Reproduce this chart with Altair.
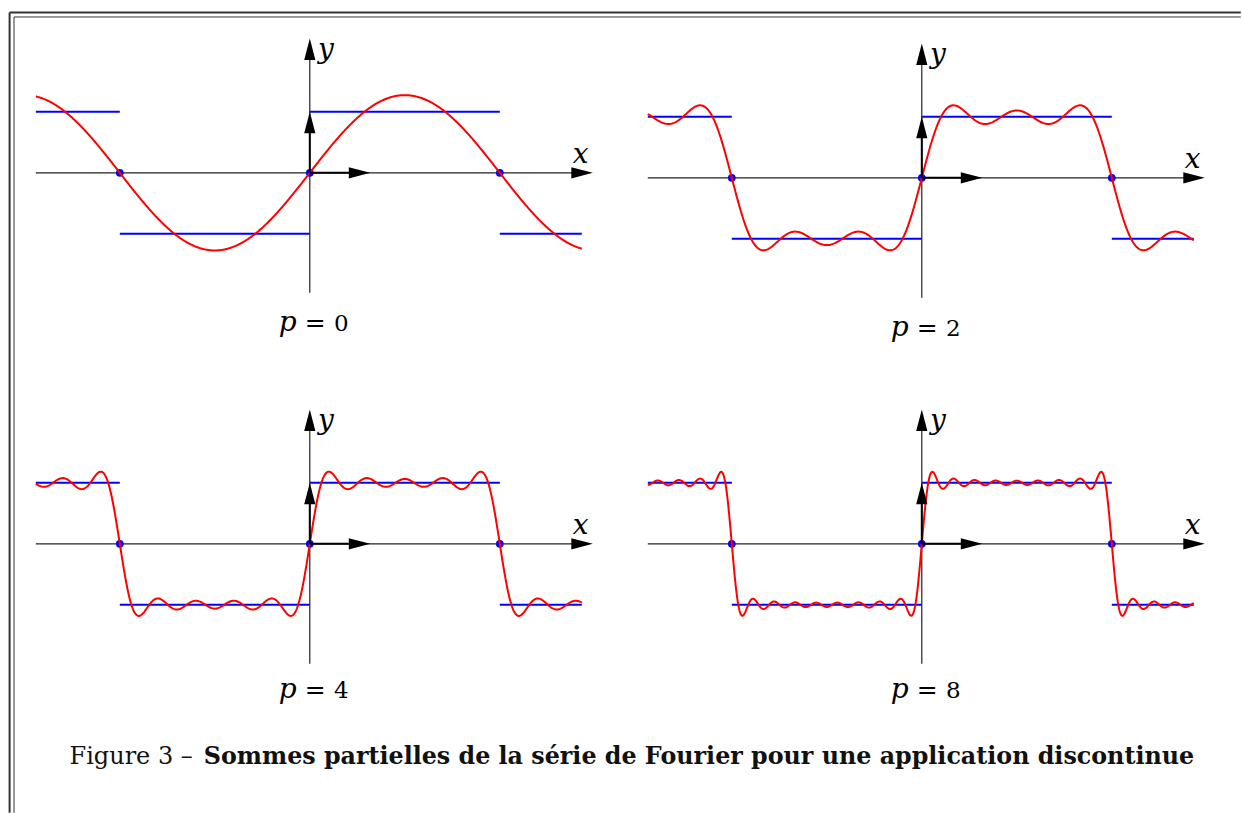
import numpy as np
import pandas as pd
import altair as alt

# Orders p of the partial sums, one panel each (top-left, top-right, bottom-left, bottom-right)
ORDERS = [0, 2, 4, 8]

# Square wave drawn in blue: interval ends (in multiples of pi) and value on each interval
STEP_START = [-1.442, -1.0, 0.0, 1.0]
STEP_END = [-1.0, 0.0, 1.0, 1.4315]
STEP_VALUE = [1, -1, 1, -1]

# Discontinuities of the square wave (multiples of pi), where the partial sums cross zero
JUMPS = [-1.0, 0.0, 1.0]

# Amplitude factor of the Fourier series of the +/-1 square wave
AMPLITUDE = 4 / np.pi

# Sampling of the red curves
N_SAMPLES = 900

# Panel geometry (pixels) and scale domains
W, H = 570, 315
PX_PER_X = 190 / np.pi
X_DOMAIN = [-279 / PX_PER_X, 291 / PX_PER_X]
Y_DOMAINS = {0: [-173 / 61, 142 / 61], 2: [-168 / 61, 147 / 61],
             4: [-167 / 61, 148 / 61], 8: [-167 / 61, 148 / 61]}
LABEL_Y = {0: -2.59, 2: -2.59, 4: -2.53, 8: -2.53}

SERIF = "DejaVu Serif"
AXIS_COLOR = "#222222"
ARROW_RIGHT = "M-2,-0.52L0,0L-2,0.52Z"
ARROW_UP = "M-0.52,2L0,0L0.52,2Z"


def partial_sum(p, x):
    s = np.zeros_like(x)
    for k in range(p + 1):
        n = 2 * k + 1
        s += np.sin(n * x) / n
    return AMPLITUDE * s


def panel(p, extra=None):
    xsc = alt.Scale(domain=X_DOMAIN, nice=False, zero=False)
    ysc = alt.Scale(domain=Y_DOMAINS[p], nice=False, zero=False)

    def X(f="x"):
        return alt.X(f"{f}:Q", scale=xsc, axis=None)

    def Y(f="y"):
        return alt.Y(f"{f}:Q", scale=ysc, axis=None)

    xs = np.linspace(STEP_START[0] * np.pi, STEP_END[-1] * np.pi, N_SAMPLES)
    curve = pd.DataFrame({"x": xs, "y": partial_sum(p, xs)})

    steps = pd.DataFrame({
        "x": np.array(STEP_START) * np.pi,
        "x2": np.array(STEP_END) * np.pi,
        "y": STEP_VALUE,
    })
    dots = pd.DataFrame({"x": np.array(JUMPS) * np.pi, "y": 0.0})

    x_tip = 283 / PX_PER_X
    y_tip = 2.2
    axes = pd.DataFrame({
        "x": [STEP_START[0] * np.pi, 0.0],
        "x2": [x_tip - 0.1, 0.0],
        "y": [0.0, -1.967],
        "y2": [0.0, y_tip - 0.1],
    })
    axis_lines = alt.Chart(axes).mark_rule(color=AXIS_COLOR, strokeWidth=1.2).encode(
        x=X(), x2="x2:Q", y=Y(), y2="y2:Q")

    units = pd.DataFrame({"x": [0.0, 0.0], "x2": [0.7, 0.0],
                          "y": [0.0, 0.0], "y2": [0.0, 0.7]})
    unit_shafts = alt.Chart(units).mark_rule(color="black", strokeWidth=2).encode(
        x=X(), x2="x2:Q", y=Y(), y2="y2:Q")

    heads_right = alt.Chart(pd.DataFrame({"x": [x_tip, 1.0], "y": [0.0, 0.0]})).mark_point(
        shape=ARROW_RIGHT, filled=True, color="black", size=462, opacity=1, strokeWidth=0
    ).encode(x=X(), y=Y())
    heads_up = alt.Chart(pd.DataFrame({"x": [0.0, 0.0], "y": [y_tip, 1.0]})).mark_point(
        shape=ARROW_UP, filled=True, color="black", size=462, opacity=1, strokeWidth=0
    ).encode(x=X(), y=Y())

    step_lines = alt.Chart(steps).mark_rule(color="#0000ff", strokeWidth=2).encode(
        x=X(), x2="x2:Q", y=Y())

    jump_dots = alt.Chart(dots).mark_circle(color="#0000ff", size=60, opacity=1).encode(
        x=X(), y=Y())

    red = alt.Chart(curve).mark_line(color="#ff0000", strokeWidth=2).encode(
        x=X(), y=Y(), order="x:Q")

    label_src = pd.DataFrame({"order": [str(p)]})
    ly = LABEL_Y[p]
    lab_p = alt.Chart(label_src).mark_text(
        text="p", font=SERIF, fontStyle="italic", fontSize=28, align="center",
        baseline="alphabetic").encode(x=alt.datum(-0.364, scale=xsc), y=alt.datum(ly, scale=ysc))
    lab_eq = alt.Chart(label_src).mark_text(
        text="=", font=SERIF, fontSize=25, align="center",
        baseline="alphabetic").encode(x=alt.datum(0.091, scale=xsc), y=alt.datum(ly, scale=ysc))
    lab_n = alt.Chart(label_src).mark_text(
        font=SERIF, fontSize=23, align="center", baseline="alphabetic").encode(
        x=alt.datum(0.521, scale=xsc), y=alt.datum(ly, scale=ysc), text="order:N")

    lab_x = alt.Chart(label_src).mark_text(
        text="x", font=SERIF, fontStyle="italic", fontSize=28, align="center",
        baseline="alphabetic").encode(x=alt.datum(4.48, scale=xsc), y=alt.datum(0.164, scale=ysc))
    lab_y = alt.Chart(label_src).mark_text(
        text="y", font=SERIF, fontStyle="italic", fontSize=28, align="center",
        baseline="alphabetic").encode(x=alt.datum(0.265, scale=xsc), y=alt.datum(1.885, scale=ysc))

    layers = [axis_lines, step_lines, jump_dots, red, unit_shafts, heads_right, heads_up,
              lab_p, lab_eq, lab_n, lab_x, lab_y]
    if extra:
        layers += extra
    return alt.layer(*layers).properties(width=W, height=H)


# Double frame around the figure (left and top edges)
frame_src = pd.DataFrame({"k": [0]})
frame = [
    alt.Chart(frame_src).mark_rule(color="#333333", strokeWidth=2).encode(
        x=alt.value(-21.2), y=alt.value(-18.2), y2=alt.value(782)),
    alt.Chart(frame_src).mark_rule(color="#333333", strokeWidth=2).encode(
        x=alt.value(-21.2), x2=alt.value(1210), y=alt.value(-18.2)),
    alt.Chart(frame_src).mark_rule(color="#333333", strokeWidth=1).encode(
        x=alt.value(-16.8), y=alt.value(-13.8), y2=alt.value(782)),
    alt.Chart(frame_src).mark_rule(color="#333333", strokeWidth=1).encode(
        x=alt.value(-16.8), x2=alt.value(1210), y=alt.value(-13.8)),
]

# Figure caption
caption = [
    alt.Chart(frame_src).mark_text(
        text="Figure 3 –", font=SERIF, fontSize=24, align="right", baseline="alphabetic",
        color="#111111").encode(x=alt.value(162), y=alt.value(368)),
    alt.Chart(frame_src).mark_text(
        text="Sommes partielles de la série de Fourier pour une application discontinue",
        font=SERIF, fontSize=23.8, fontWeight="bold", align="left", baseline="alphabetic",
        color="#111111").encode(x=alt.value(173), y=alt.value(368)),
]

chart = alt.concat(
    panel(ORDERS[0], frame), panel(ORDERS[1]),
    panel(ORDERS[2], caption), panel(ORDERS[3]),
    columns=2,
    spacing=alt.RowColnumber(row=50, column=42),
    bounds="flush",
).resolve_scale(
    x="independent", y="independent"
).properties(
    padding={"left": 7.8, "top": 10.8, "right": 0, "bottom": 0},
    background="white",
).configure_view(strokeWidth=0)

chart.save("out.html", embed_options={"renderer": "svg", "actions": False})
